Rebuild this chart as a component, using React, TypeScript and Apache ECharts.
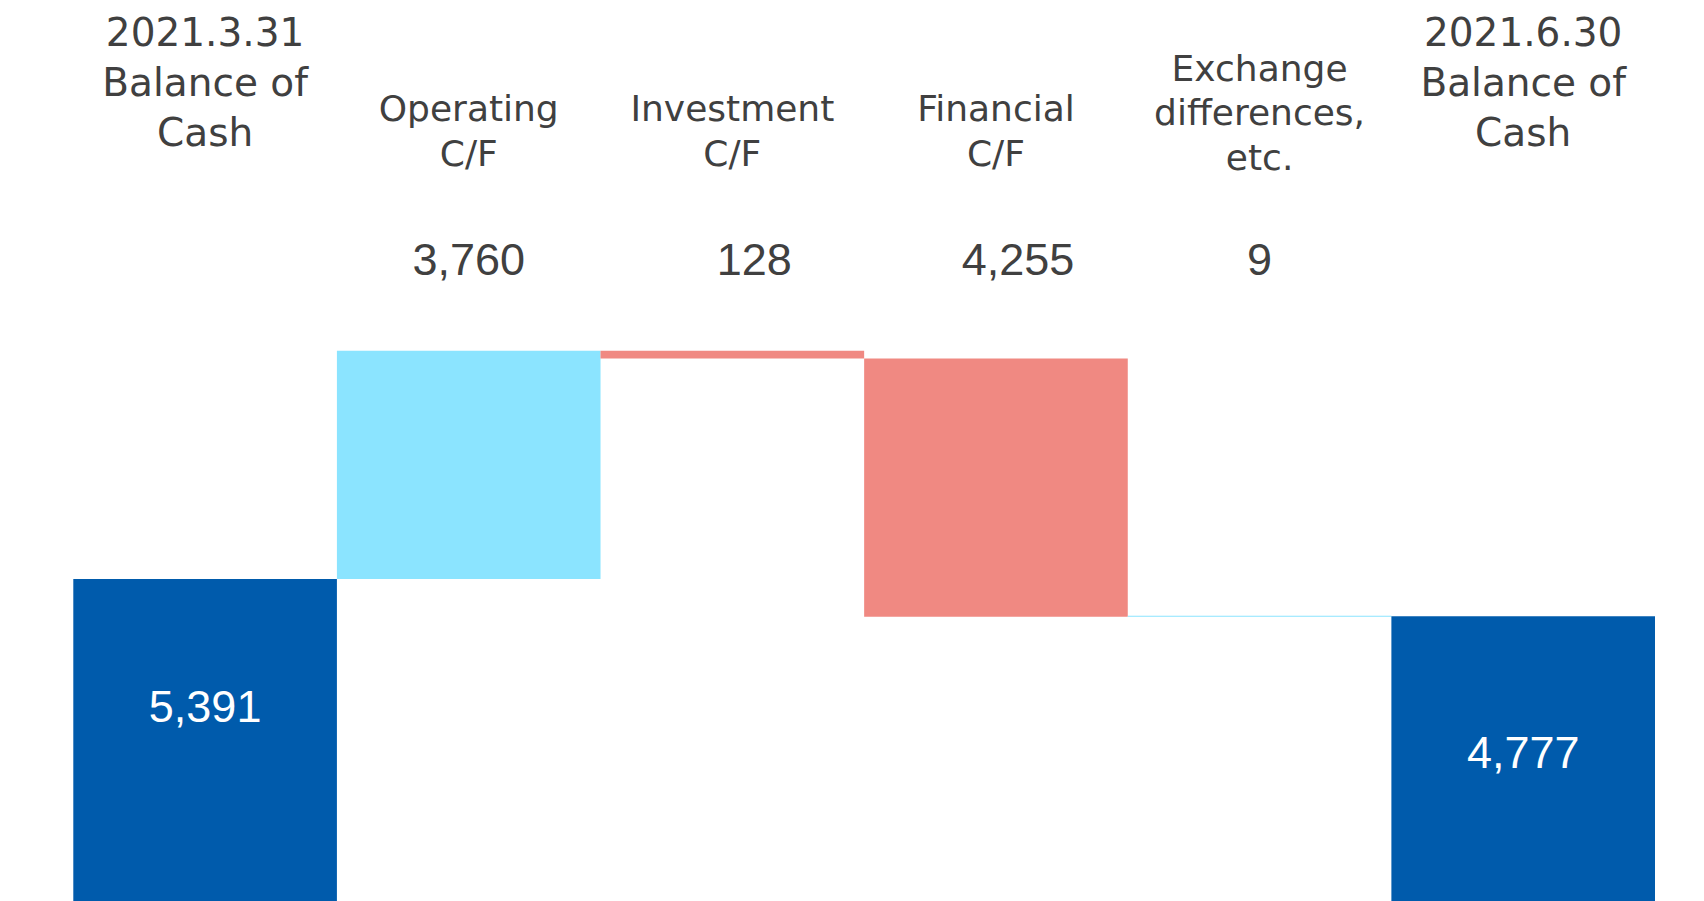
import React, { useEffect, useRef } from "react";
import * as echarts from "echarts";

// ---- data ----
const categories = [
  "2021.3.31\nBalance of\nCash",
  "Operating\nC/F",
  "Investment\nC/F",
  "Financial\nC/F",
  "Exchange\ndifferences,\netc.",
  "2021.6.30\nBalance of\nCash",
];
const openingBalance = 5391;
const cashFlows = [3760, -128, -4255, 9];
const closingBalance = 4777;

const COLOR_TOTAL = "#005BAC";
const COLOR_UP = "#8BE4FF";
const COLOR_DOWN = "#F08982";
const TEXT = "#404040";

const fmt = (v: number) => Math.abs(v).toLocaleString("en-US");

export default function App() {
  const ref = useRef<HTMLDivElement>(null);

  useEffect(() => {
    document.body.style.margin = "0";
    if (!ref.current) return;
    const chart = echarts.init(ref.current, undefined, { renderer: "svg" });

    // waterfall layout built from the data
    const bases: number[] = [0];
    const heights: number[] = [openingBalance];
    const kinds: string[] = ["total"];
    const signed: number[] = [openingBalance];
    let running = openingBalance;
    cashFlows.forEach((cf) => {
      if (cf >= 0) {
        bases.push(running);
        running += cf;
        kinds.push("up");
      } else {
        running += cf;
        bases.push(running);
        kinds.push("down");
      }
      heights.push(Math.abs(cf));
      signed.push(cf);
    });
    bases.push(0);
    heights.push(closingBalance);
    kinds.push("total");
    signed.push(closingBalance);

    const colorOf = (k: string) =>
      k === "total" ? COLOR_TOTAL : k === "up" ? COLOR_UP : COLOR_DOWN;

    const totalLabelPos = [
      ["50%", "39.5%"],
      ["50%", "48%"],
    ];
    let totalIdx = 0;
    const barData = heights.map((h, i) => {
      const item: any = {
        value: h,
        itemStyle: { color: colorOf(kinds[i]) },
      };
      if (kinds[i] === "total") {
        item.label = {
          show: true,
          position: totalLabelPos[totalIdx++],
          align: "center",
          verticalAlign: "middle",
          color: "#ffffff",
          fontSize: 45,
          fontFamily: "Liberation Sans, Arial, sans-serif",
          formatter: () => fmt(signed[i]),
        };
      }
      return item;
    });

    const formatter = (_v: string, index: number) => {
      const lines = categories[index].split("\n");
      if (kinds[index] === "total") {
        return lines.map((l) => `{big|${l}}`).join("\n") + "\n{sp0| }";
      }
      const gap = lines.length > 2 ? "g2" : "g1";
      const valStyle = signed[index] < 0 ? "valn" : "val";
      return (
        lines.map((l) => `{nm|${l}}`).join("\n") +
        `\n{${gap}| }\n{${valStyle}|${fmt(signed[index])}}`
      );
    };

    const option: any = {
      animation: false,
      backgroundColor: "#ffffff",
      grid: { left: 73.3, right: 49, top: 299.1, bottom: 0, containLabel: false },
      xAxis: {
        type: "category",
        position: "top",
        data: categories,
        axisLine: { show: false },
        axisTick: { show: false },
        splitLine: { show: false },
        axisLabel: {
          interval: 0,
          margin: 14.4,
          color: TEXT,
          formatter,
          rich: {
            big: {
              fontFamily: "DejaVu Sans",
              fontSize: 39,
              lineHeight: 50,
              color: TEXT,
              align: "center",
            },
            nm: {
              fontFamily: "DejaVu Sans",
              fontSize: 36,
              lineHeight: 44.7,
              color: TEXT,
              align: "center",
            },
            sp0: { fontSize: 10, lineHeight: 127.2, align: "center" },
            g1: { fontSize: 10, lineHeight: 59.3, align: "center" },
            g2: { fontSize: 10, lineHeight: 54.7, align: "center" },
            val: {
              fontFamily: "Liberation Sans, Arial, sans-serif",
              fontSize: 45,
              lineHeight: 50,
              color: TEXT,
              align: "center",
            },
            valn: {
              fontFamily: "Liberation Sans, Arial, sans-serif",
              fontSize: 45,
              lineHeight: 50,
              color: TEXT,
              align: "center",
              padding: [0, 0, 0, 44],
            },
          },
        },
      },
      yAxis: {
        type: "value",
        min: 87.3,
        max: 10000,
        show: false,
        splitLine: { show: false },
      },
      series: [
        {
          type: "bar",
          stack: "waterfall",
          data: bases,
          barWidth: "100%",
          itemStyle: { color: "transparent" },
          silent: true,
          emphasis: { disabled: true },
        },
        {
          type: "bar",
          stack: "waterfall",
          data: barData,
          barWidth: "100%",
          barMinHeight: 1,
          silent: true,
          emphasis: { disabled: true },
        },
      ],
    };

    chart.setOption(option);
    return () => chart.dispose();
  }, []);

  return (
    <div
      ref={ref}
      style={{ position: "absolute", left: 0, top: 0, width: 1704, height: 901 }}
    />
  );
}
